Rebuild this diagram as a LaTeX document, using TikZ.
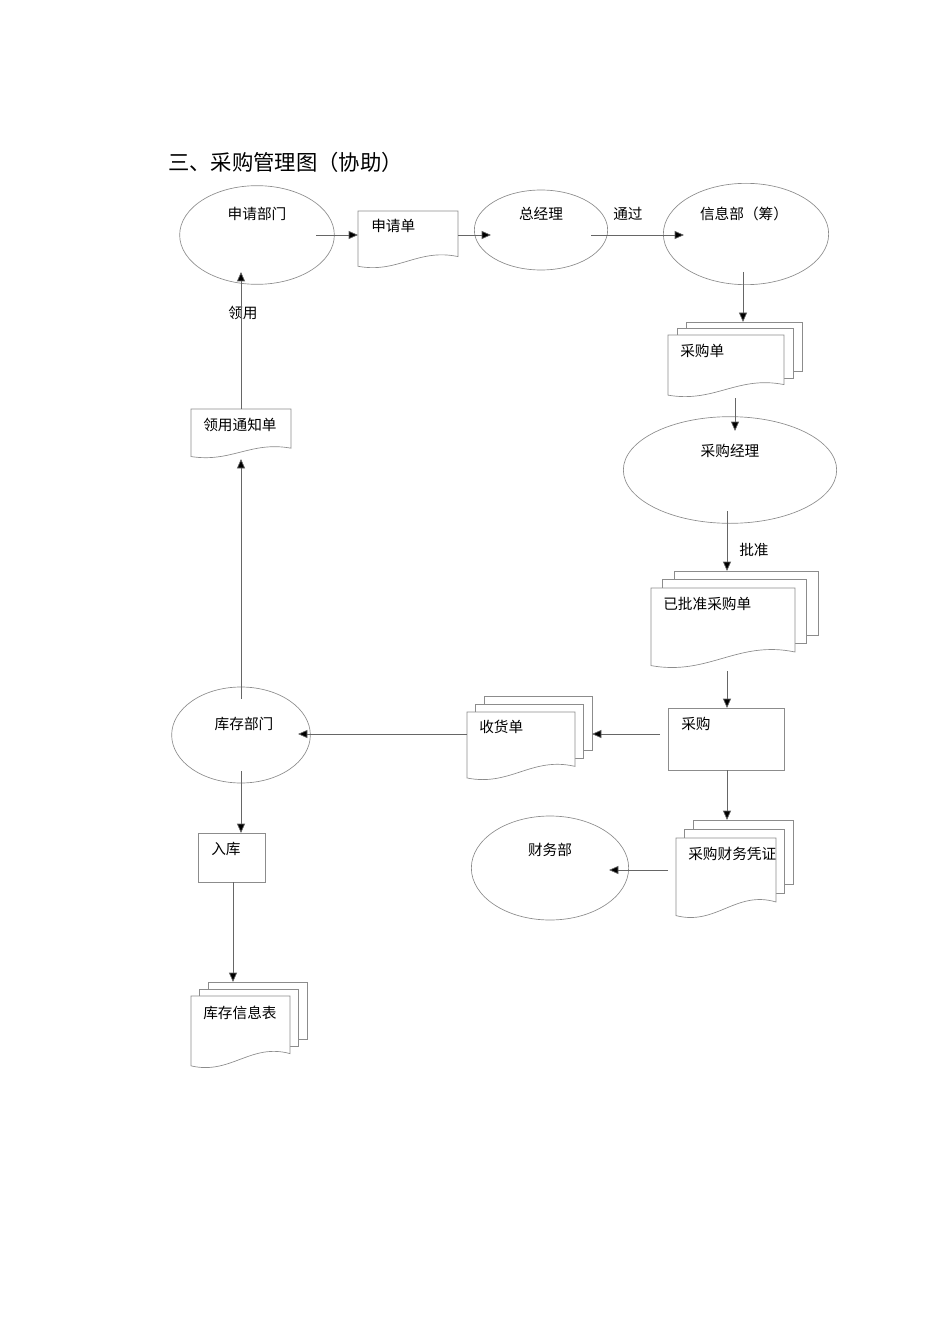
\documentclass[tikz,border=0pt]{standalone}
\usepackage{fontspec}
\setmainfont{Noto Sans CJK SC}
\usetikzlibrary{shapes.geometric,arrows.meta}
\tikzset{shp/.style={draw=black!45,line width=0.5pt},
 ell/.style={shp,ellipse,inner sep=0pt},
 arr/.style={draw=black!60,line width=0.5pt,-{Triangle[length=7pt,width=6pt,fill=black]}},
 lab/.style={font=\fontsize{11}{13}\selectfont,inner sep=0pt,anchor=west}}
\newcommand\docpath[4]{%
 \pgfmathsetmacro\dh{#4-#2}\pgfmathsetmacro\dw{#3-#1}%
 \draw[shp,fill=white] (#1,#2) -- (#3,#2) -- (#3,#4-0.2*\dh) .. controls (#1+0.6*\dw,#4-0.35*\dh) and (#1+0.4*\dw,#4+0.1*\dh) .. (#1,#4-0.03*\dh) -- cycle;}
\newcommand\mdoc[6]{%
 \pgfmathsetmacro\dh{#4-#2}%
 \draw[shp,fill=white] (#1+2*#5,#2-2*#6) rectangle (#3+2*#5,#4-0.2*\dh-2*#6);
 \draw[shp,fill=white] (#1+#5,#2-#6) rectangle (#3+#5,#4-0.2*\dh-#6);
 \docpath{#1}{#2}{#3}{#4}}
\begin{document}
\begin{tikzpicture}[x=0.75pt,y=-0.75pt]
\useasboundingbox (0,0) rectangle (950,1344);
\node[anchor=west,inner sep=0pt,font=\fontsize{16}{18}\selectfont] (title) at (168,162) {三、采购管理图（协助）};
% ellipses
\node[ell,minimum width=116,minimum height=74] (sq) at (257,235) {};
\node[lab,anchor=center] (sqt) at (257,214) {申请部门};
\node[ell,minimum width=100,minimum height=60] (zjl) at (541,230) {};
\node[lab,anchor=center] (zjlt) at (541,214) {总经理};
\node[ell,minimum width=124,minimum height=76] (xxb) at (746,234) {};
\node[lab,anchor=center] (xxbt) at (744,214) {信息部（筹）};
\node[ell,minimum width=160,minimum height=80] (cgjl) at (730,470) {};
\node[lab,anchor=center] (cgjlt) at (730,451) {采购经理};
\node[ell,minimum width=104,minimum height=72] (kc) at (241,735) {};
\node[lab,anchor=center] (kct) at (244,724) {库存部门};
\node[ell,minimum width=118,minimum height=78] (cw) at (550,868) {};
\node[lab,anchor=center] (cwt) at (550,850) {财务部};
% documents
\docpath{358}{211}{458}{268}
\node[lab] (sqd) at (371,226) {申请单};
\docpath{191}{409}{291}{458}
\node[lab] (lytz) at (203,425) {领用通知单};
\mdoc{668}{335}{784}{397}{9}{6.5}
\node[lab] (cgd) at (680,351) {采购单};
\mdoc{651}{588}{795}{668}{11.5}{8.5}
\node[lab] (pzd) at (663,604) {已批准采购单};
\mdoc{467}{712}{575}{780}{8.5}{8}
\node[lab] (shd) at (479,727) {收货单};
\mdoc{676}{838}{776}{918}{8.5}{9}
\node[lab] (cwpz) at (688,854) {采购财务凭证};
\mdoc{191}{996}{290}{1068}{8.5}{7}
\node[lab] (kcb) at (203,1013) {库存信息表};
\draw[shp] (668,708) rectangle (784,770);
\node[lab] (cg) at (681,724) {采购};
\draw[shp] (198,833) rectangle (265,882);
\node[lab] (rk) at (211,849) {入库};
% labels
\node[lab] (tg) at (613,214) {通过};
\node[lab] (pz) at (739,550) {批准};
\node[lab] (ly) at (228,313) {领用};
% connector coordinates
\coordinate (a1) at (316,235); \coordinate (a2) at (358,235);
\coordinate (b1) at (458,235); \coordinate (b2) at (491,235);
\coordinate (c1) at (591,235); \coordinate (c2) at (684,235);
\coordinate (d1) at (743,272); \coordinate (d2) at (743,322);
\coordinate (e1) at (735,398); \coordinate (e2) at (735,431);
\coordinate (f1) at (727,511); \coordinate (f2) at (727,571);
\coordinate (g1) at (727,671); \coordinate (g2) at (727,708);
\coordinate (h1) at (660,734); \coordinate (h2) at (592,734);
\coordinate (i1) at (467,734); \coordinate (i2) at (298,734);
\coordinate (j1) at (241,699); \coordinate (j2) at (241,459);
\coordinate (k1) at (241,409); \coordinate (k2) at (241,272);
\coordinate (l1) at (241,771); \coordinate (l2) at (241,833);
\coordinate (m1) at (233,882); \coordinate (m2) at (233,982);
\coordinate (n1) at (727,770); \coordinate (n2) at (727,820);
\coordinate (o1) at (668,870); \coordinate (o2) at (609,870);
\foreach \s/\t in {a1/a2,b1/b2,c1/c2,d1/d2,e1/e2,f1/f2,g1/g2,h1/h2,i1/i2,j1/j2,k1/k2,l1/l2,m1/m2,n1/n2,o1/o2}
 \draw[arr] (\s) -- (\t);
\end{tikzpicture}
\end{document}
